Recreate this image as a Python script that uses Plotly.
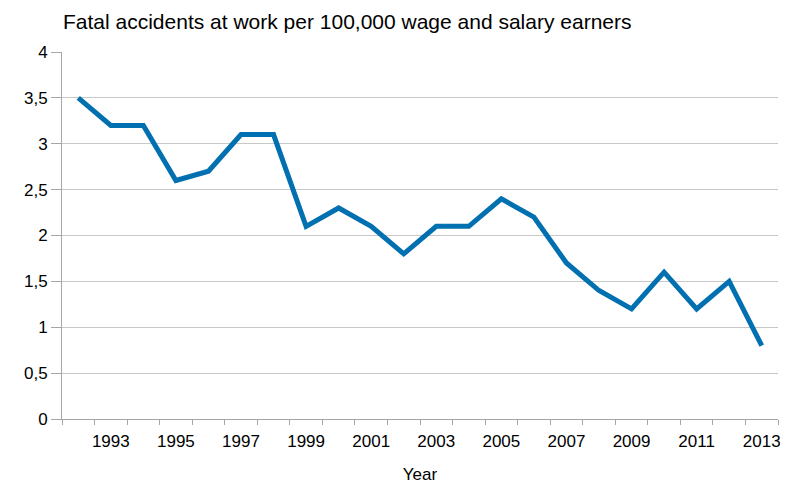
import plotly.graph_objects as go

# Fatal accidents at work per 100,000 wage and salary earners
years = list(range(1992, 2014))
rate = [3.5, 3.2, 3.2, 2.6, 2.7, 3.1, 3.1, 2.1, 2.3, 2.1, 1.8,
        2.1, 2.1, 2.4, 2.2, 1.7, 1.4, 1.2, 1.6, 1.2, 1.5, 0.8]
label_years = [y for y in years if y % 2 == 1]
y_ticks = [0, 0.5, 1, 1.5, 2, 2.5, 3, 3.5, 4]

fig = go.Figure()
fig.add_trace(go.Scatter(
    x=years, y=rate,
    mode='lines',
    line=dict(color='rgb(0,112,176)', width=5),
    showlegend=False
))

axis_font = dict(family='Liberation Sans, Arial, sans-serif', size=17, color='black')

# page body adds an 8px margin, so the figure is 8px smaller than the window
fig.update_layout(
    width=780, height=476,
    margin=dict(l=54, r=7, t=44, b=65),
    plot_bgcolor='white', paper_bgcolor='white',
    separators=', ',
    title=dict(text='Fatal accidents at work per 100,000 wage and salary earners',
               x=55 / 780, xanchor='left', xref='container',
               y=1 - 14 / 476, yanchor='middle', yref='container',
               font=dict(family='Liberation Sans, Arial, sans-serif', size=21, color='black')),
    xaxis=dict(
        range=[years[0] - 0.5, years[-1] + 0.5],
        tickvals=label_years, tickfont=axis_font,
        ticks='outside', ticklen=7, tickcolor='rgba(0,0,0,0)',
        showgrid=False, zeroline=False, automargin='left+right',
        showline=True, linecolor='#a6a6a6', linewidth=1,
        minor=dict(tickvals=[y - 0.5 for y in years] + [years[-1] + 0.5],
                   ticks='outside', ticklen=5, tickcolor='#a6a6a6', showgrid=False),
        title=dict(text='Year', font=axis_font, standoff=17),
    ),
    yaxis=dict(
        range=[0, 4], tickvals=y_ticks, tickfont=axis_font,
        ticks='outside', ticklen=10, tickcolor='#a6a6a6',
        showgrid=True, gridcolor='#c8c8c8', gridwidth=1,
        zeroline=False, showline=True, linecolor='#a6a6a6', linewidth=1,
    ),
)

fig.write_html("out.html")
